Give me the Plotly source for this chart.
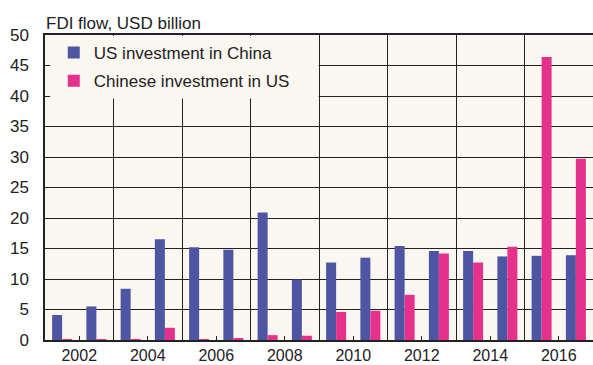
import plotly.graph_objects as go

years = list(range(2002, 2018))
us_in_china = [4.1, 5.5, 8.4, 16.5, 15.2, 14.8, 20.9, 9.9, 12.7, 13.5, 15.4, 14.6, 14.6, 13.7, 13.8, 13.9]
china_in_us = [0.1, 0.05, 0.1, 2.0, 0.1, 0.3, 0.8, 0.7, 4.6, 4.8, 7.4, 14.2, 12.7, 15.3, 46.4, 29.7]
label_years = [y for y in years if y % 2 == 0]
y_ticks = list(range(0, 55, 5))

BLUE = "#4E56A4"
PINK = "#E5318B"
BG = "#FAF6F0"
GRID = "#222222"
FONT = "Liberation Sans, Arial, sans-serif"
FS = 17

fig = go.Figure()
fig.add_trace(go.Bar(x=years, y=us_in_china, name="US investment in China",
                     marker=dict(color=BLUE, line=dict(width=0)), legendgroup="a"))
fig.add_trace(go.Bar(x=years, y=china_in_us, name="Chinese investment in US",
                     marker=dict(color=PINK, line=dict(width=0)), legendgroup="b"))

# panel covering the gridlines behind the legend
fig.add_shape(type="rect", xref="x", yref="y", x0=years[0] - 0.35, x1=years[0] + 7.49,
              y0=39.6, y1=49.85, fillcolor=BG, line=dict(width=0), layer="above")

fig.add_annotation(text="FDI flow, USD billion", xref="paper", yref="paper",
                   x=0, y=1.039, xanchor="left", yanchor="middle", showarrow=False,
                   font=dict(size=FS, color="#222", family=FONT), xshift=-1)

fig.update_layout(
    width=593, height=365,
    margin=dict(l=45, r=0, t=35, b=25, autoexpand=False),
    paper_bgcolor="white", plot_bgcolor=BG,
    barmode="group", bargap=0.416, bargroupgap=0,
    font=dict(family=FONT, size=FS, color="#222"),
    legend=dict(x=0.016, y=1.0, xanchor="left", yanchor="top",
                bgcolor="rgba(0,0,0,0)", font=dict(size=FS, color="#222", family=FONT),
                traceorder="grouped", tracegroupgap=3, itemwidth=30),
    xaxis=dict(range=[years[0] - 0.5, years[-1] + 0.5], automargin=False,
               tickmode="array", tickvals=[y + 0.5 for y in label_years],
               ticktext=[str(y) for y in label_years],
               ticks="inside", ticklen=4, tickcolor=GRID,
               showgrid=False, zeroline=False,
               showline=True, linecolor=GRID, linewidth=1.5, mirror=True,
               ticklabelstandoff=0, tickfont=dict(size=16),
               minor=dict(tickmode="array", tickvals=[y + 1.5 for y in label_years[:-1]],
                          showgrid=True, gridcolor=GRID, gridwidth=1, ticks="")),
    yaxis=dict(range=[0, 50], tickmode="array", tickvals=y_ticks, automargin=False,
               showgrid=True, gridcolor=GRID, gridwidth=1, zeroline=False,
               ticks="", showline=True, linecolor=GRID, linewidth=1.5, mirror=True,
               ticklabelstandoff=11),
)

fig.write_html("out.html")
